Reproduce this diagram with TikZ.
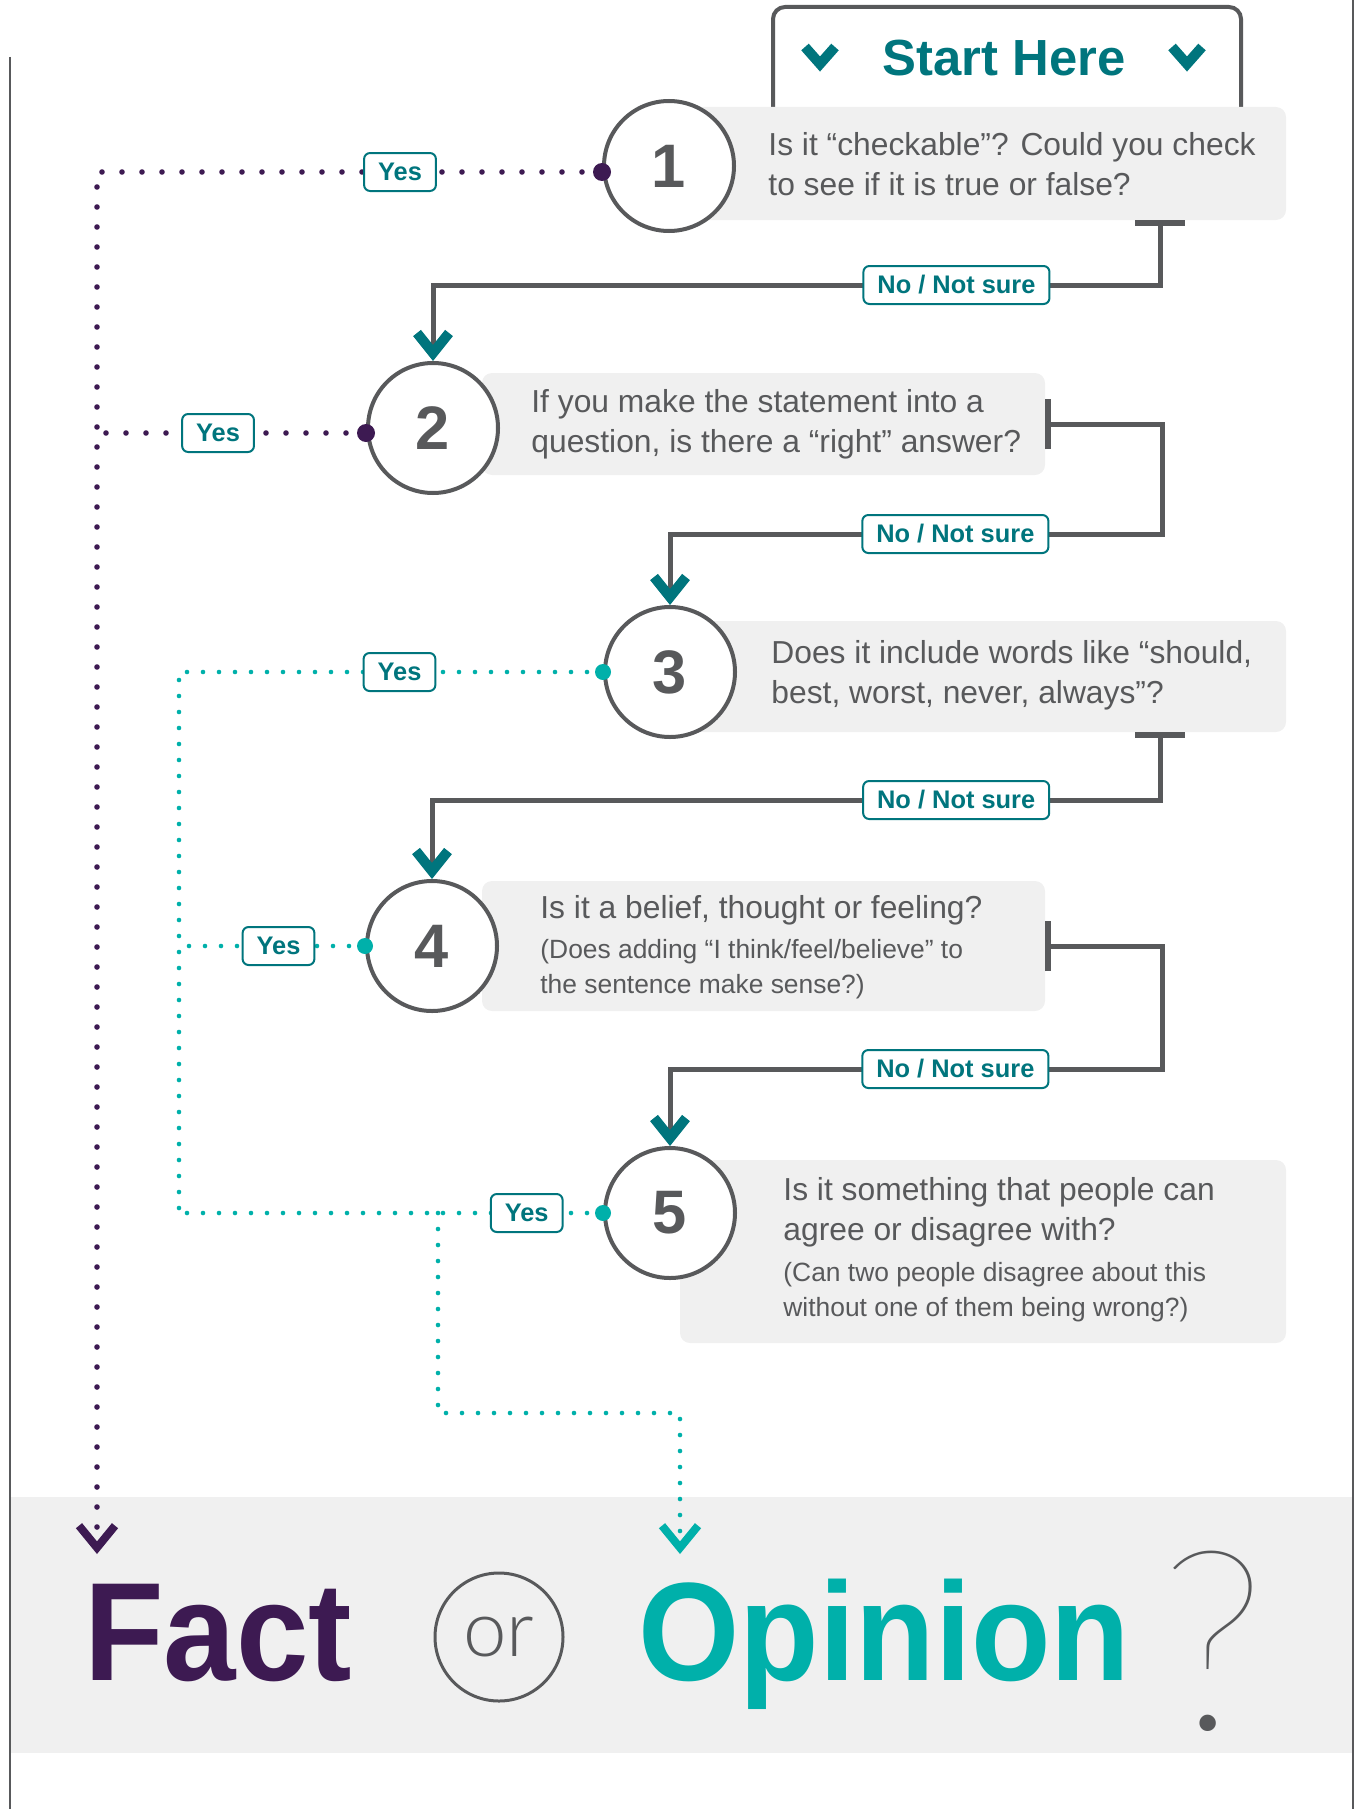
\documentclass[tikz,border=0pt]{standalone}
\usepackage{fontspec}
\setmainfont{Liberation Sans}
\newfontfamily\bigfont{Liberation Sans}[FakeStretch=0.93]
\newfontfamily\lightfont{Lato Light}
\newfontfamily\hairfont{Lato Thin}
\usetikzlibrary{arrows.meta,positioning}

\definecolor{lgrey}{HTML}{58595B}
\definecolor{boxgrey}{HTML}{F0F0F0}
\definecolor{tealdk}{HTML}{00757D}
\definecolor{teallt}{HTML}{00B0AA}
\definecolor{factcol}{HTML}{3D1A52}

\begin{document}
\begin{tikzpicture}[x=0.5pt, y=-0.5pt,
    qnode/.style={circle, draw=lgrey, line width=2pt, fill=white, minimum size=65pt, inner sep=0pt, text=lgrey, font=\bfseries\fontsize{30.7}{32}\selectfont},
    qbox/.style={rectangle, rounded corners=5pt, fill=boxgrey, inner sep=0pt},
    qtext/.style={anchor=west, align=left, inner sep=0pt, text=lgrey, font=\fontsize{15.9}{20}\selectfont},
    qsub/.style={qtext, font=\fontsize{13.2}{17.5}\selectfont},
    answer/.style={solid, line cap=butt, draw=tealdk, line width=1pt, rounded corners=3pt, fill=white, text=tealdk, font=\bfseries\fontsize{12.7}{14}\selectfont, minimum height=19pt, inner xsep=7pt, inner ysep=0pt},
    noline/.style={draw=lgrey, line width=2.5pt, arrows={Bar[width=25pt, line width=3pt]-Straight Barb[color=tealdk, length=10pt, width=16pt, line width=5pt, sharp]}},
    factline/.style={draw=factcol, line width=2.8pt, line cap=round, dash pattern=on 0pt off 10pt, arrows={-Straight Barb[length=11pt, width=18pt, line width=4pt, sharp]}},
    opline/.style={draw=teallt, line width=2.3pt, line cap=round, dash pattern=on 0pt off 8pt},
    chev/.style={draw=tealdk, line width=5pt, miter limit=10}]

    \useasboundingbox (0,0) rectangle (1356,1809);

    % Frame and band
    \fill [boxgrey] (11,1497) rectangle (1352,1753);
    \draw [lgrey, line width=1pt] (10,57) -- (10,1809);
    \draw [lgrey, line width=1pt] (1353,0) -- (1353,1809);

    % Start
    \draw [lgrey, line width=2pt, rounded corners=6pt] (773,150) |- (1007,7) -| (1241,150);
    \node [text=tealdk, font=\bfseries\fontsize{25.4}{26}\selectfont, inner sep=0pt] (start) at (1004,58) {Start Here};
    \draw [chev] (805,47) -- (820,64) -- (835,47);
    \draw [chev] (1172,47) -- (1187,64) -- (1202,47);

    % Boxes
    \node [qbox, minimum width=296.5pt, minimum height=56.5pt] (b1) at (989.5,163.5) {};
    \node [qbox, minimum width=281.5pt, minimum height=51pt]   (b2) at (763.5,424) {};
    \node [qbox, minimum width=296.5pt, minimum height=55.5pt] (b3) at (989.5,676.5) {};
    \node [qbox, minimum width=281.5pt, minimum height=65pt]   (b4) at (763.5,946) {};
    \node [qbox, minimum width=303pt, minimum height=91.5pt]   (b5) at (983,1251.5) {};

    % Questions
    \node [qtext] (t1) at (768,164.5) {Is it “checkable”? Could you check\\to see if it is true or false?};
    \node [qtext] (t2) at (531,424) {If you make the statement into a\\question, is there a “right” answer?};
    \node [qtext] (t3) at (771,675.5) {Does it include words like “should,\\best, worst, never, always”?};
    \node [qtext] (t4) at (540,910) {Is it a belief, thought or feeling?};
    \node [qsub]  (s4) at (540,969.5) {(Does adding “I think/feel/believe” to\\the sentence make sense?)};
    \node [qtext] (t5) at (783,1212) {Is it something that people can\\agree or disagree with?};
    \node [qsub]  (s5) at (783,1292.5) {(Can two people disagree about this\\without one of them being wrong?)};

    % Circles
    \node [qnode] (q1) at (669,166)  {1};
    \node [qnode] (q2) at (433,428)  {2};
    \node [qnode] (q3) at (670,672)  {3};
    \node [qnode] (q4) at (432,946)  {4};
    \node [qnode] (q5) at (670,1213) {5};

    % Bends
    \coordinate (j1) at (1160,285);
    \coordinate (j2) at (1162,534);
    \coordinate (j3) at (1160,800);
    \coordinate (j4) at (1162,1069);
    \coordinate (y1) at ([yshift=-3pt]q1.west);
    \coordinate (y2) at ([yshift=-2.5pt]q2.west);
    \coordinate (factin) at (97,1554);
    \coordinate (tj) at (179,1213);
    \coordinate (tk) at (438,1213);
    \coordinate (tm) at (680,1413);
    \coordinate (opin) at (680,1554);

    % No paths
    \draw [noline] (b1.south -| j1) -- (j1) -| node [answer, pos=0.14] {No / Not sure} (q2.north);
    \draw [noline] (b2.east) -| (j2) -| node [answer, pos=0.21] {No / Not sure} (q3.north);
    \draw [noline] (b3.south -| j3) -- (j3) -| node [answer, pos=0.14] {No / Not sure} (q4.north);
    \draw [noline] (b4.east) -| (j4) -| node [answer, pos=0.21] {No / Not sure} (q5.north);

    % Yes paths
    \draw [factline] (y1) -| node [answer, pos=0.2] {Yes} (factin);
    \draw [factline, arrows=-] (y2) -- node [answer, pos=0.55] {Yes} (y2 -| factin);
    \draw [opline] (q3.west) -| node [answer, pos=0.24] {Yes} (tj);
    \draw [opline] (q4.west) -- node [answer, pos=0.465] {Yes} (q4.west -| tj);
    \draw [opline] (q5.west) -- node [answer, pos=0.18] {Yes} (tj);
    \draw [opline, arrows={-Straight Barb[length=11pt, width=18pt, line width=4pt, sharp]}] (tk) |- (tm) -- (opin);

    \foreach \q in {y1,y2} \fill [factcol] (\q) circle (4.5pt);
    \foreach \q in {q3,q4,q5} \fill [teallt] (\q.west) circle (4pt);

    % Fact or Opinion
    \node [anchor=base west, inner sep=0pt, text=factcol, font=\bigfont\bfseries\fontsize{70}{72}\selectfont] (fact) at (84,1680) {Fact};
    \node [circle, draw=lgrey, line width=1.5pt, minimum size=64pt, inner sep=0pt, text=lgrey, font=\lightfont\fontsize{39}{40}\selectfont] (or) at (499,1637) {or};
    \node [anchor=base west, inner sep=0pt, text=teallt, font=\bigfont\bfseries\fontsize{70}{72}\selectfont] (opinion) at (638,1680) {Opinion};
    \node [anchor=base west, inner sep=0pt, text=lgrey, font=\hairfont\fontsize{126}{130}\selectfont] (qmark) at (1160,1729) {?};

\end{tikzpicture}
\end{document}
